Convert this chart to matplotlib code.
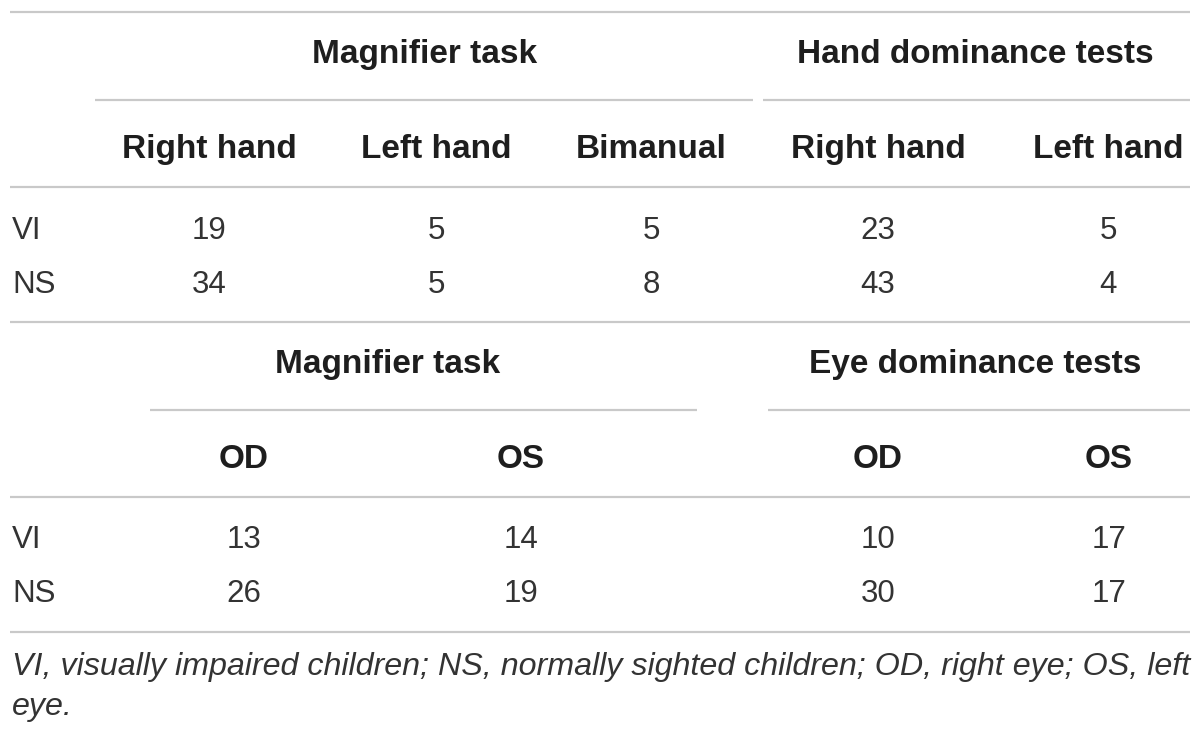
import matplotlib
matplotlib.use("Agg")
import matplotlib.pyplot as plt

# ── Table content ─────────────────────────────────────────────────────────────
row_labels = ["VI", "NS"]

top_groups = ["Magnifier task", "Hand dominance tests"]
top_columns = ["Right hand", "Left hand", "Bimanual", "Right hand", "Left hand"]
top_values = [
    [19, 5, 5, 23, 5],
    [34, 5, 8, 43, 4],
]

bottom_groups = ["Magnifier task", "Eye dominance tests"]
bottom_columns = ["OD", "OS", "OD", "OS"]
bottom_values = [
    [13, 14, 10, 17],
    [26, 19, 30, 17],
]

footnote = ["VI, visually impaired children; NS, normally sighted children; OD, right eye; OS, left",
            "eye."]

# ── Layout (pixel coordinates, y downwards) ──────────────────────────────────
W, H = 1200, 737
LINE = "#c9c9c9"
TXT = "#1e1e1e"
BODY = "#333333"
FONT = "Liberation Sans"

top_col_x = [209, 436, 651, 878, 1108]
top_group_x = [425, 975]
top_group_span = [(95, 753), (763, 1190)]

bot_col_x = [244, 521, 878, 1109]
bot_group_x = [388, 975]
bot_group_span = [(150, 697), (768, 1190)]

fig = plt.figure(figsize=(W / 100, H / 100), dpi=100)
ax = fig.add_axes([0, 0, 1, 1])
ax.set_xlim(0, W)
ax.set_ylim(H, 0)
ax.axis("off")


def hline(y, x0=10, x1=1190):
    ax.plot([x0, x1], [y, y], color=LINE, lw=1.6, solid_capstyle="butt")


def block(y0, groups, group_x, spans, columns, col_x, values):
    # y0: top rule of the block
    for g, gx in zip(groups, group_x):
        ax.text(gx, y0 + 42, g, ha="center", va="center", fontsize=24,
                fontweight="bold", color=TXT, family=FONT)
    for a, b in spans:
        hline(y0 + 88, a, b)
    for c, cx in zip(columns, col_x):
        ax.text(cx, y0 + 137, c, ha="center", va="center", fontsize=24,
                fontweight="bold", color=TXT, family=FONT)
    hline(y0 + 175)
    for r, (lab, vals) in enumerate(zip(row_labels, values)):
        y = y0 + 218.5 + r * 54
        ax.text(12, y, lab, ha="left", va="center", fontsize=22.5,
                color=BODY, family=FONT)
        for v, cx in zip(vals, col_x):
            ax.text(cx, y, str(v), ha="center", va="center", fontsize=22.5,
                    color=BODY, family=FONT)
    hline(y0 + 310)


hline(12)
block(12, top_groups, top_group_x, top_group_span, top_columns, top_col_x, top_values)
block(322, bottom_groups, bot_group_x, bot_group_span, bottom_columns, bot_col_x, bottom_values)

for i, line in enumerate(footnote):
    ax.text(12, 667 + i * 40, line, ha="left", va="center", fontsize=23.2,
            style="italic", color=BODY, family=FONT)

fig.savefig("out.png", dpi=100, facecolor="white")
